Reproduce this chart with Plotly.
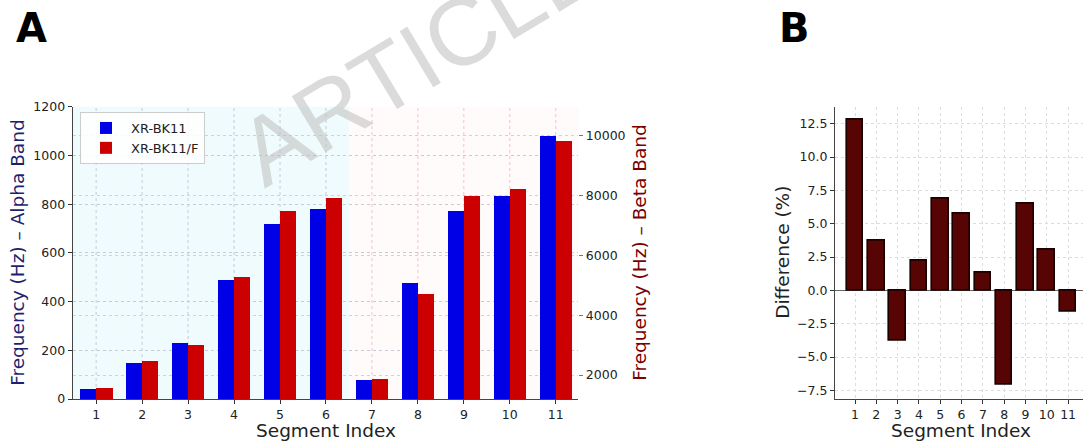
import plotly.graph_objects as go

# ---------------- data ----------------
segments = [1, 2, 3, 4, 5, 6, 7, 8, 9, 10, 11]
alpha_segments = [1, 2, 3, 4, 5, 6]
beta_segments = [7, 8, 9, 10, 11]
alpha_bk11 = [41, 150, 231, 490, 721, 783]
alpha_bk11f = [46, 156, 222, 501, 772, 826]
beta_bk11 = [1855, 5100, 7500, 7995, 10000]
beta_bk11f = [1890, 4735, 7995, 8250, 9833]
difference_pct = [12.78, 3.72, -3.75, 2.22, 6.9, 5.72, 1.32, -7.1, 6.52, 3.07, -1.6]
left_ticks = [0, 200, 400, 600, 800, 1000, 1200]
right_ticks = [2000, 4000, 6000, 8000, 10000]
diff_ticks = [-7.5, -5.0, -2.5, 0.0, 2.5, 5.0, 7.5, 10.0, 12.5]

BLUE = "#0000e6"
RED = "#cc0000"
FONT = "DejaVu Sans"
W, H = 1083, 441

fig = go.Figure()

bw = 0.35
fig.add_trace(go.Bar(x=alpha_segments, y=alpha_bk11, name="XR-BK11", marker_color=BLUE,
                     width=bw, offset=-bw, legendgroup="a", xaxis="x", yaxis="y",
                     marker_line_width=0))
fig.add_trace(go.Bar(x=alpha_segments, y=alpha_bk11f, name="XR-BK11/F", marker_color=RED,
                     width=bw, offset=0, legendgroup="b", xaxis="x", yaxis="y",
                     marker_line_width=0))
fig.add_trace(go.Bar(x=beta_segments, y=beta_bk11, name="XR-BK11", marker_color=BLUE,
                     width=bw, offset=-bw, legendgroup="a", showlegend=False,
                     xaxis="x", yaxis="y2", marker_line_width=0))
fig.add_trace(go.Bar(x=beta_segments, y=beta_bk11f, name="XR-BK11/F", marker_color=RED,
                     width=bw, offset=0, legendgroup="b", showlegend=False,
                     xaxis="x", yaxis="y2", marker_line_width=0))

fig.add_trace(go.Bar(x=segments, y=difference_pct, width=0.78, showlegend=False,
                     marker=dict(color="#560404", line=dict(color="#1a0000", width=1.6)),
                     xaxis="x3", yaxis="y3"))

ydom = [42 / H, (H - 106.7) / H]
xdomA = [72.7 / W, 578.3 / W]
xdomB = [835 / W, 1.0]

tickfont = dict(family=FONT, size=12.5, color="#222")

shapes = []
# background shading by band
shapes.append(dict(type="rect", xref="x", yref="paper", x0=alpha_segments[0] - 0.5,
                   x1=alpha_segments[-1] + 0.5, y0=ydom[0], y1=ydom[1],
                   fillcolor="#effbfd", line_width=0, layer="below"))
shapes.append(dict(type="rect", xref="x", yref="paper", x0=beta_segments[0] - 0.5,
                   x1=beta_segments[-1] + 0.5, y0=ydom[0], y1=ydom[1],
                   fillcolor="#fffbfb", line_width=0, layer="below"))
# vertical grid lines, colored by band
for s in alpha_segments:
    shapes.append(dict(type="line", xref="x", yref="paper", x0=s, x1=s, y0=ydom[0], y1=ydom[1],
                       line=dict(color="#c4ccd8", width=1, dash="dot"), layer="below"))
for s in beta_segments:
    shapes.append(dict(type="line", xref="x", yref="paper", x0=s, x1=s, y0=ydom[0], y1=ydom[1],
                       line=dict(color="#f2c4c4", width=1, dash="dot"), layer="below"))


def ann(text, px, py, size, color="#222", angle=0, family=FONT):
    return dict(text=text, x=px / W, y=(H - py) / H, xref="paper", yref="paper",
                xanchor="center", yanchor="middle", textangle=angle, showarrow=False,
                font=dict(family=family, size=size, color=color))


ymid = 252.85
fig.update_layout(
    width=W, height=H, margin=dict(l=0, r=0, t=0, b=0, autoexpand=False),
    paper_bgcolor="white", plot_bgcolor="rgba(0,0,0,0)",
    barmode="overlay", bargap=0,
    font=dict(family=FONT, color="#222"),
    shapes=shapes,
    xaxis=dict(domain=xdomA, range=[0.49, 11.49], tickmode="array", tickvals=segments,
               ticks="outside", ticklen=4, tickcolor="#333", tickfont=tickfont,
               showgrid=False, showline=True, linecolor="#444", linewidth=1.2,
               zeroline=False, anchor="y", automargin=False),
    yaxis=dict(domain=ydom, range=[0, 1200], tickvals=left_ticks, ticks="outside",
               ticklen=4, tickcolor="#333", tickfont=tickfont, showline=True,
               linecolor="#444", linewidth=1.2, gridcolor="#c4ccd8", griddash="dot",
               gridwidth=1, zeroline=False, anchor="x", automargin=False),
    yaxis2=dict(domain=ydom, range=[1200, 10980], tickvals=right_ticks, tickformat="d",
                ticks="outside", ticklen=4, tickcolor="#777", tickfont=tickfont,
                overlaying="y", side="right", showline=False, gridcolor="#f2c4c4",
                griddash="dot", gridwidth=1, zeroline=False, anchor="x", automargin=False),
    xaxis3=dict(domain=xdomB, range=[0.06, 11.7], tickmode="array", tickvals=segments,
                ticks="outside", ticklen=4, tickcolor="#333", tickfont=tickfont,
                showline=True, linecolor="#444", linewidth=1.2, gridcolor="#dddddd",
                griddash="dot", zeroline=False, anchor="y3", automargin=False),
    yaxis3=dict(domain=ydom, range=[-8.15, 13.78], tickvals=diff_ticks, tickformat=".1f",
                ticks="outside", ticklen=4, tickcolor="#333", tickfont=tickfont,
                showline=True, linecolor="#444", linewidth=1.2, gridcolor="#dddddd",
                griddash="dot", zeroline=True, zerolinecolor="#666", zerolinewidth=1,
                anchor="x3", automargin=False),
    legend=dict(x=80 / W, y=(H - 112) / H, xanchor="left", yanchor="top",
                bgcolor="rgba(255,255,255,0.85)", bordercolor="#cccccc", borderwidth=1,
                font=dict(family=FONT, size=13, color="#222"), tracegroupgap=0,
                itemwidth=40),
    annotations=[
        ann("<b>A</b>", 31, 28, 40, "black"),
        ann("<b>B</b>", 794, 28, 40, "black"),
        ann("Frequency (Hz) – Alpha Band", 18, ymid, 18.5, "#1f1f70", -90),
        ann("Frequency (Hz) – Beta Band", 640, ymid, 18.5, "#7a0000", -90),
        ann("Segment Index", 325.5, 430, 18.5),
        ann("Segment Index", 961, 430, 18.5),
        ann("Difference (%)", 783, ymid, 18.5, "#222", -90),
        ann("ARTICLE", 418, 58, 95, "rgba(190,190,190,0.55)", -31, "Liberation Sans"),
    ],
)

fig.write_html("out.html")
